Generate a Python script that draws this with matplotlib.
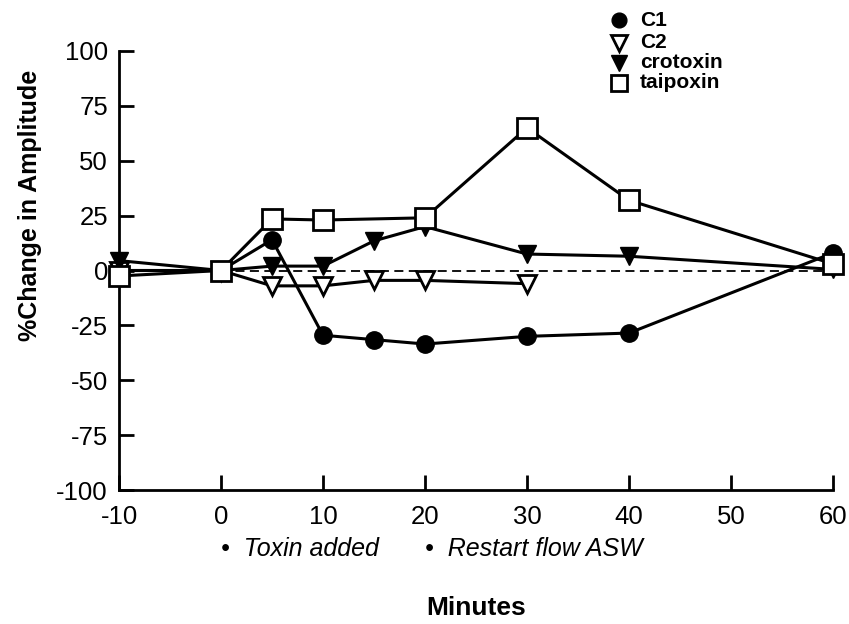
import matplotlib
matplotlib.use("Agg")
import matplotlib.pyplot as plt
from matplotlib.lines import Line2D

plt.rcParams["font.family"] = ["Liberation Sans", "DejaVu Sans"]

# minutes relative to toxin addition
c1_x = [-10, 0, 5, 10, 15, 20, 30, 40, 60]
c1_y = [0, 0, 14, -29.5, -31.5, -33.5, -30, -28.5, 8]

c2_x = [-10, 0, 5, 10, 15, 20, 30]
c2_y = [0, 0, -7, -7, -4.5, -4.5, -6]

crot_x = [-10, 0, 5, 10, 15, 20, 30, 40, 60]
crot_y = [4.5, 0, 2, 2, 13.5, 20, 7.5, 6.5, 0.5]

taip_x = [-10, 0, 5, 10, 20, 30, 40, 60]
taip_y = [-2.5, 0, 23.5, 23, 24, 65, 32, 3]

x_ticks = [-10, 0, 10, 20, 30, 40, 50, 60]
y_ticks = [-100, -75, -50, -25, 0, 25, 50, 75, 100]

events = [(0, "Toxin added"), (20, "Restart flow ASW")]

SERIES = [
    ("C1", c1_x, c1_y, dict(marker="o", ms=12.5, mfc="black", mec="black")),
    ("C2", c2_x, c2_y, dict(marker="v", ms=13.5, mfc="white", mec="black", mew=2)),
    ("crotoxin", crot_x, crot_y, dict(marker="v", ms=13.5, mfc="black", mec="black")),
    ("taipoxin", taip_x, taip_y, dict(marker="s", ms=14, mfc="white", mec="black", mew=2)),
]

fig = plt.figure(figsize=(8.49, 6.24), dpi=100)
ax = fig.add_axes([119 / 849, 1 - 490 / 624, (833 - 119) / 849, (490 - 51) / 624])

# zero reference
ax.plot([0, 60], [0, 0], color="black", ls="--", lw=1.3, dashes=(5, 3), zorder=1)

for name, xs, ys, st in SERIES:
    ax.plot(xs, ys, color="black", lw=2.2, clip_on=False, zorder=3, **st)

ax.set_xlim(-10, 60)
ax.set_ylim(-100, 100)
ax.set_xticks(x_ticks)
ax.set_yticks(y_ticks)
ax.set_xticklabels([str(t) for t in x_ticks])
ax.set_yticklabels([str(t) for t in y_ticks])
for s in ("top", "right"):
    ax.spines[s].set_visible(False)
for s in ("left", "bottom"):
    ax.spines[s].set_linewidth(2)
ax.tick_params(direction="in", length=11, width=2, labelsize=18.5)
ax.tick_params(axis="x", pad=11)
ax.tick_params(axis="y", pad=8)

ax.set_xlabel("Minutes", fontsize=19, fontweight="bold", labelpad=48)
fig.text(30 / 849, 1 - 205 / 624, "%Change in Amplitude", rotation=90,
         ha="center", va="center", fontsize=18, fontweight="bold")

# event markers under the x axis
for xv, label in events:
    ax.annotate("\u2022  " + label, xy=(xv, 0), xycoords=("data", "figure fraction"),
                xytext=(xv, 1 - 549 / 624), textcoords=("data", "figure fraction"),
                ha="left", va="center", fontsize=18, style="italic")

# legend drawn by hand, tight rows as in the original
rows_y = [20, 43, 63, 83]
for (name, _, _, st), yp in zip(SERIES, rows_y):
    yf = 1 - yp / 624
    m = dict(st)
    m["ms"] = m["ms"] * 0.85
    fig.add_artist(Line2D([619 / 849], [yf], transform=fig.transFigure, ls="none", **m))
    fig.text(640 / 849, yf, name, ha="left", va="center", fontsize=15, fontweight="bold")

fig.savefig("out.png", dpi=100)
